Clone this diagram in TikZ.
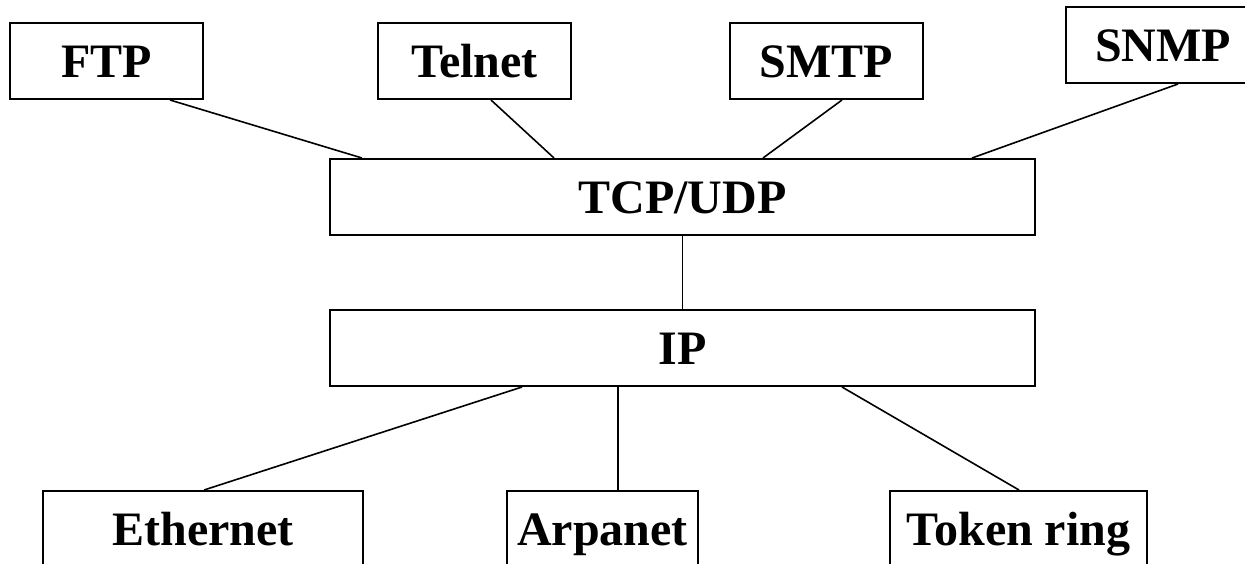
\documentclass[tikz,border=0pt]{standalone}
\usepackage{fontspec}
\setmainfont{Liberation Serif}
\begin{document}
\begin{tikzpicture}[x=1pt,y=-1pt,
  layerbox/.style={draw=black, line width=2pt, rectangle, inner sep=0pt,
    minimum height=76pt, font=\fontsize{48}{56}\selectfont\bfseries,
    text height=32pt, text depth=0pt},
  link/.style={draw=black, line width=1.6pt}]
\useasboundingbox (0,0) rectangle (1245,563);
\clip (0,0) rectangle (1245,563);
\node[layerbox, minimum width=193pt] (ftp) at (106.5,61) {FTP};
\node[layerbox, minimum width=193pt] (telnet) at (474.5,61) {Telnet};
\node[layerbox, minimum width=193pt] (smtp) at (826.5,61) {SMTP};
\node[layerbox, minimum width=194pt] (snmp) at (1163,45) {SNMP};
\node[layerbox, minimum width=705pt] (tcp) at (682.5,197) {TCP/UDP};
\node[layerbox, minimum width=705pt] (ip) at (682.5,348) {IP};
\node[layerbox, minimum width=320pt] (eth) at (203,529) {Ethernet};
\node[layerbox, minimum width=191pt] (arp) at (602.5,529) {Arpanet};
\node[layerbox, minimum width=257pt] (tok) at (1018.5,529) {Token ring};
\draw[link] ([xshift=63.5pt]ftp.south) -- ([xshift=-320.5pt]tcp.north);
\draw[link] ([xshift=16.5pt]telnet.south) -- ([xshift=-128.5pt]tcp.north);
\draw[link] ([xshift=15.5pt]smtp.south) -- ([xshift=80.5pt]tcp.north);
\draw[link] ([xshift=15pt]snmp.south) -- ([xshift=289.5pt]tcp.north);
\draw[link] (tcp.south) -- (ip.north);
\draw[link] ([xshift=-160.5pt]ip.south) -- ([xshift=1pt]eth.north);
\draw[link] ([xshift=-64.5pt]ip.south) -- ([xshift=15.5pt]arp.north);
\draw[link] ([xshift=159.5pt]ip.south) -- ([xshift=0.5pt]tok.north);
\end{tikzpicture}
\end{document}
